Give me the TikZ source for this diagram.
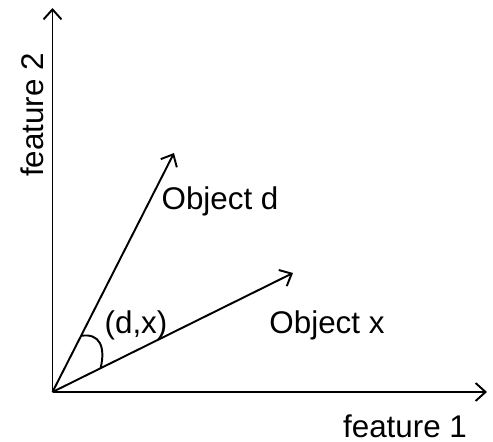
\documentclass[tikz,border=0pt]{standalone}
\usepackage{fontspec}
\setmainfont{Liberation Sans}
\usetikzlibrary{arrows.meta,calc}
\begin{document}
\begin{tikzpicture}[x=0.02cm,y=-0.02cm,line width=1.1pt,
  vec/.style={-{Straight Barb[length=2mm,width=3.6mm]}},
  lbl/.style={font=\fontsize{17.85}{20}\selectfont,inner sep=0pt,anchor=base}]
\useasboundingbox (0,0) rectangle (493,442);
\coordinate (O) at (52.5,392);
\coordinate (f1) at (487,392);
\coordinate (f2) at (52.5,8);
\coordinate (d) at (174,153);
\coordinate (x) at (293,273);
\draw[vec] (O) -- (f1);
\draw[vec] (O) -- (f2);
\draw[vec] (O) -- (d);
\draw[vec] (O) -- (x);
% angle between the two objects
\coordinate (a1) at ($(O)!0.235!(d)$);
\coordinate (a2) at ($(O)!0.2!(x)$);
\draw (a1) .. controls +(19,-3) and +(5,-21) .. (a2);
\node[lbl] (feat1) at (405,437) {feature 1};
\node[lbl,rotate=90] (feat2) at (43,115) {feature 2};
\node[lbl] (objd) at (220,210) {Object d};
\node[lbl] (objx) at (327,333) {Object x};
\node[lbl] (ang) at (136,333) {(d,x)};
\end{tikzpicture}
\end{document}
